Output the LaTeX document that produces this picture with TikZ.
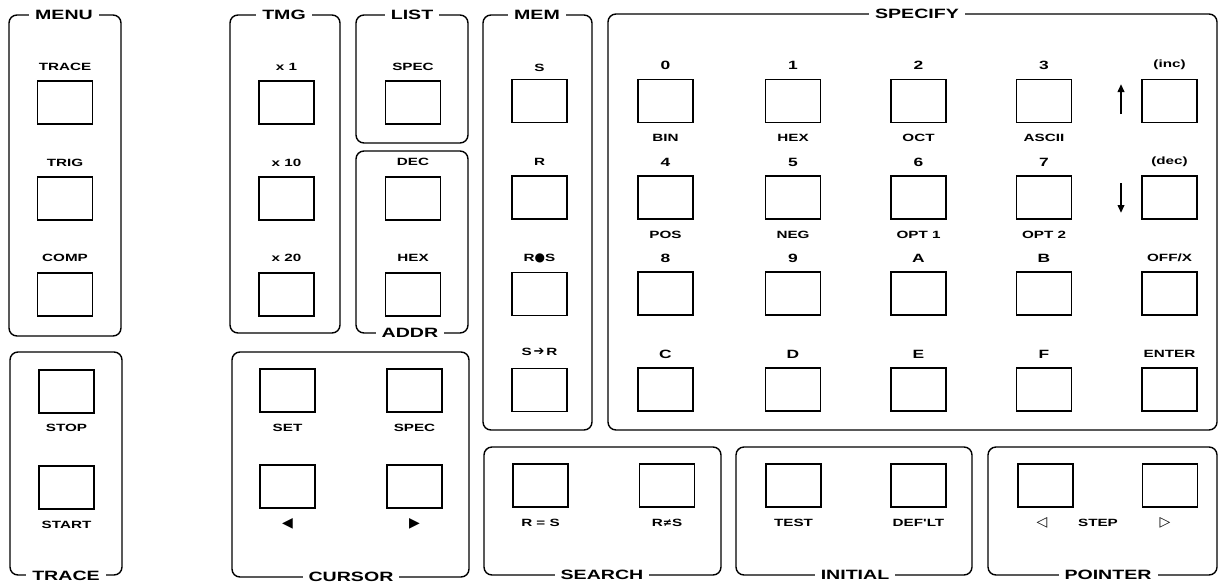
\documentclass[tikz,border=0pt]{standalone}
\usepackage{fontspec}
\newfontfamily\lab{Liberation Sans}[FakeStretch=1.45]
\newfontfamily\sym{DejaVu Sans}
\usetikzlibrary{arrows.meta}
\tikzset{
  grp/.style={draw, line width=1.4pt, rounded corners=8pt},
  kbox/.style={draw, line width=1.4pt, minimum width=55pt, minimum height=43pt, inner sep=0pt},
  lbl/.style={inner sep=0pt, font=\lab\bfseries\fontsize{10.5}{11}\selectfont},
  dig/.style={inner sep=0pt, font=\lab\bfseries\fontsize{12}{12}\selectfont},
  ttl/.style={fill=white, inner xsep=6pt, inner ysep=2pt, font=\lab\bfseries\fontsize{13.5}{14}\selectfont},
  symb/.style={inner sep=0pt, font=\sym\fontsize{14}{15}\selectfont},
  sarrow/.style={line width=2pt, -{Triangle[length=8pt,width=6.5pt]}}
}
\newcommand\keyat[3]{\node[kbox] (#1) at (#2,#3) {};}
\newcommand\labat[4]{\node[lbl] (#1) at (#2,#3) {#4};}
\newcommand\digat[4]{\node[dig] (#1) at (#2,#3) {#4};}
\begin{document}
\begin{tikzpicture}[x=1pt,y=-1pt]
\useasboundingbox (0,0) rectangle (1220,584);
% ---------- group boxes
\draw[grp] (9,15) rectangle (121,336);
\draw[grp] (10,352) rectangle (122,575);
\draw[grp] (230,15) rectangle (340,333);
\draw[grp] (356,15) rectangle (468,143);
\draw[grp] (356,151) rectangle (468,333);
\draw[grp] (232,352) rectangle (469,577);
\draw[grp] (483,15) rectangle (592,430);
\draw[grp] (608,14) rectangle (1217,430);
\draw[grp] (484,447) rectangle (721,575);
\draw[grp] (736,447) rectangle (972,575);
\draw[grp] (988,447) rectangle (1217,575);
% ---------- titles
\node[ttl] (tmenu) at (64,15) {MENU};
\node[ttl] (ttrace) at (66,576) {TRACE};
\node[ttl] (ttmg) at (284,15) {TMG};
\node[ttl] (tlist) at (412,15) {LIST};
\node[ttl] (taddr) at (410,333) {ADDR};
\node[ttl] (tcursor) at (351,577) {CURSOR};
\node[ttl] (tmem) at (537,15) {MEM};
\node[ttl] (tspec) at (917,14) {SPECIFY};
\node[ttl] (tsearch) at (602,575) {SEARCH};
\node[ttl] (tinit) at (855,575) {INITIAL};
\node[ttl] (tpoint) at (1108,575) {POINTER};
% ---------- MENU
\keyat{kTrace}{65}{102.5} \labat{lTrace}{65}{67}{TRACE}
\keyat{kTrig}{65}{198.5} \labat{lTrig}{65}{163}{TRIG}
\keyat{kComp}{65}{294.5} \labat{lComp}{65}{258}{COMP}
% ---------- TRACE
\keyat{kStop}{66.5}{391.5} \labat{lStop}{66.5}{428}{STOP}
\keyat{kStart}{66.5}{487.5} \labat{lStart}{66.5}{525}{START}
% ---------- TMG
\keyat{kX1}{286.5}{102.5} \labat{lX1}{286.5}{67}{x 1}
\keyat{kX10}{286.5}{198.5} \labat{lX10}{286.5}{163}{x 10}
\keyat{kX20}{286.5}{294.5} \labat{lX20}{286.5}{258}{x 20}
% ---------- LIST
\keyat{kLSpec}{413}{102.5} \labat{lLSpec}{413}{67}{SPEC}
% ---------- ADDR
\keyat{kDec}{413}{198.5} \labat{lDec}{413}{162}{DEC}
\keyat{kHex}{413}{294.5} \labat{lHex}{413}{258}{HEX}
% ---------- CURSOR
\keyat{kSet}{287.5}{390.5} \labat{lSet}{287.5}{428}{SET}
\keyat{kCSpec}{414.5}{390.5} \labat{lCSpec}{414.5}{428}{SPEC}
\keyat{kLeft}{287.5}{486.5} \node[symb] (lLeft) at (287.5,524) {◀};
\keyat{kRight}{414.5}{486.5} \node[symb] (lRight) at (414.5,524) {▶};
% ---------- MEM
\keyat{kS}{539.5}{101} \labat{lS}{539.5}{68}{S}
\keyat{kR}{539.5}{197.5} \labat{lR}{539.5}{162}{R}
\keyat{kRS}{539.5}{294} \labat{lRS}{539.5}{258}{R{\sym\fontsize{12}{12}\selectfont●}S}
\keyat{kStoR}{539.5}{390} \labat{lStoR}{539.5}{352}{S\,{\sym\bfseries\fontsize{13}{12}\selectfont➔}\,R}
% ---------- SPECIFY
\keyat{k0}{665.5}{101} \digat{l0}{665.5}{65}{0} \labat{b0}{665.5}{138}{BIN}
\keyat{k1}{793}{101} \digat{l1}{793}{65}{1} \labat{b1}{793}{138}{HEX}
\keyat{k2}{918.5}{101} \digat{l2}{918.5}{65}{2} \labat{b2}{918.5}{138}{OCT}
\keyat{k3}{1044}{101} \digat{l3}{1044}{65}{3} \labat{b3}{1044}{138}{ASCII}
\keyat{kInc}{1169.5}{101} \labat{lInc}{1169.5}{65}{(inc)}
\keyat{k4}{665.5}{197.5} \digat{l4}{665.5}{162}{4} \labat{b4}{665.5}{235}{POS}
\keyat{k5}{793}{197.5} \digat{l5}{793}{162}{5} \labat{b5}{793}{235}{NEG}
\keyat{k6}{918.5}{197.5} \digat{l6}{918.5}{162}{6} \labat{b6}{918.5}{235}{OPT 1}
\keyat{k7}{1044}{197.5} \digat{l7}{1044}{162}{7} \labat{b7}{1044}{235}{OPT 2}
\keyat{kDecr}{1169.5}{197.5} \labat{lDecr}{1169.5}{162}{(dec)}
\keyat{k8}{665.5}{293.5} \digat{l8}{665.5}{258}{8}
\keyat{k9}{793}{293.5} \digat{l9}{793}{258}{9}
\keyat{kA}{918.5}{293.5} \digat{lA}{918.5}{258}{A}
\keyat{kB}{1044}{293.5} \digat{lB}{1044}{258}{B}
\keyat{kOff}{1169.5}{293.5} \labat{lOff}{1169.5}{258}{OFF/X}
\keyat{kC}{665.5}{389.5} \digat{lC}{665.5}{354}{C}
\keyat{kD}{793}{389.5} \digat{lD}{793}{354}{D}
\keyat{kE}{918.5}{389.5} \digat{lE}{918.5}{354}{E}
\keyat{kF}{1044}{389.5} \digat{lF}{1044}{354}{F}
\keyat{kEnter}{1169.5}{389.5} \labat{lEnter}{1169.5}{354}{ENTER}
\coordinate (upA) at (1121,114); \coordinate (upB) at (1121,84);
\coordinate (dnA) at (1121,183); \coordinate (dnB) at (1121,213);
\draw[sarrow] (upA) -- (upB);
\draw[sarrow] (dnA) -- (dnB);
% ---------- SEARCH
\keyat{kEq}{540.5}{485.5} \labat{lEq}{540.5}{523}{R = S}
\keyat{kNe}{667}{485.5} \labat{lNe}{667}{523}{R{\sym\bfseries\fontsize{11}{11}\selectfont≠}S}
% ---------- INITIAL
\keyat{kTest}{793.5}{485.5} \labat{lTest}{793.5}{523}{TEST}
\keyat{kDef}{918.5}{485.5} \labat{lDef}{918.5}{523}{DEF'LT}
% ---------- POINTER
\keyat{kPl}{1045.5}{485.5} \node[symb] (lPl) at (1042,523) {◁};
\keyat{kPr}{1170}{485.5} \node[symb] (lPr) at (1165,523) {▷};
\labat{lStep}{1098}{523}{STEP}
\end{tikzpicture}
\end{document}
